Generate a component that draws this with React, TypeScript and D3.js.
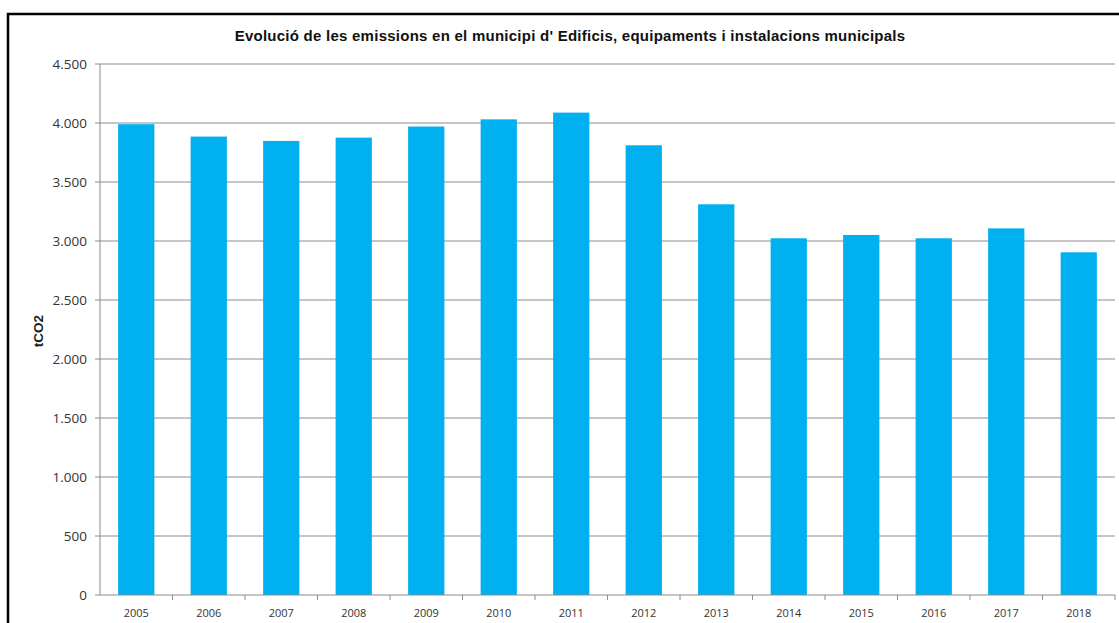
import React from "react";
import * as d3 from "d3";

const years = ["2005","2006","2007","2008","2009","2010","2011","2012","2013","2014","2015","2016","2017","2018"];
const emissions = [3990, 3885, 3848, 3876, 3970, 4031, 4088, 3811, 3311, 3023, 3051, 3023, 3107, 2904];
const yTicks = [0, 500, 1000, 1500, 2000, 2500, 3000, 3500, 4000, 4500];
const title = "Evolució de les emissions en el municipi d' Edificis, equipaments i instalacions municipals";
const yLabel = "tCO2";

const W = 1119, H = 623;
const left = 100, right = 1115, top = 64, bottom = 595;

const fmt = (v: number) => d3.format(",")(v).replace(/,/g, ".");

export default function App() {
  const x = d3.scaleBand<string>().domain(years).range([left, right]).paddingInner(0.5).paddingOuter(0.25);
  const xb = d3.scaleBand<string>().domain(years).range([left, right]);
  const y = d3.scaleLinear().domain([0, 4500]).range([bottom, top]);
  const font = "'Open Sans', sans-serif";
  return (
    <svg width={W} height={H} style={{ position: "absolute", left: 0, top: 0, display: "block", background: "#fff" }}>
      <rect x={0} y={0} width={W} height={H} fill="#fff" />
      <rect x={8} y={14} width={1300} height={800} fill="none" stroke="#000" strokeWidth={2.5} />
      <text x={570} y={41} textAnchor="middle" fontFamily="'Liberation Sans', Arial, sans-serif" fontWeight="bold" fontSize={15} letterSpacing={0.25} fill="#111">{title}</text>
      {yTicks.map(t => (
        <g key={t}>
          {t > 0 && <line x1={left} x2={right} y1={y(t)} y2={y(t)} stroke="#8c8c8c" strokeWidth={1} />}
          <line x1={left - 5} x2={left} y1={y(t)} y2={y(t)} stroke="#8c8c8c" strokeWidth={1} />
          <text x={87} y={y(t)} dy="0.35em" textAnchor="end" fontFamily={font} fontSize={13.5} fill="#333">{fmt(t)}</text>
        </g>
      ))}
      {years.map((yr, i) => (
        <rect key={yr} x={x(yr)} y={y(emissions[i])} width={x.bandwidth()} height={bottom - y(emissions[i])} fill="#00B0F0" />
      ))}
      <line x1={left} x2={left} y1={top} y2={bottom} stroke="#8c8c8c" strokeWidth={1} />
      <line x1={left} x2={right} y1={bottom} y2={bottom} stroke="#8c8c8c" strokeWidth={1} />
      {years.map(yr => (
        <line key={"t" + yr} x1={(xb(yr) as number) + xb.bandwidth()} x2={(xb(yr) as number) + xb.bandwidth()} y1={bottom} y2={bottom + 5} stroke="#8c8c8c" strokeWidth={1} />
      ))}
      {years.map(yr => (
        <text key={"l" + yr} x={(xb(yr) as number) + xb.bandwidth() / 2} y={613} dy="0.35em" textAnchor="middle" fontFamily={font} fontSize={11} fill="#333">{yr}</text>
      ))}
      <text transform={`translate(43,331) rotate(-90)`} textAnchor="middle" fontFamily="'Liberation Sans', Arial, sans-serif" fontWeight="bold" fontSize={13.5} fill="#222">{yLabel}</text>
    </svg>
  );
}
